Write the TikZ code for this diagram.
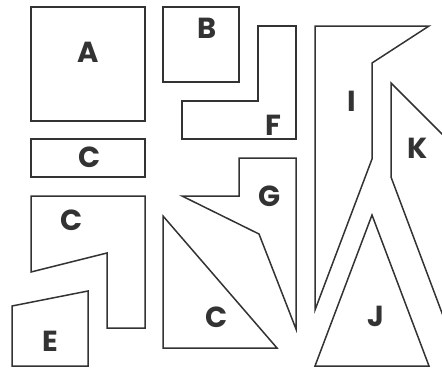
\documentclass[tikz,border=0pt]{standalone}
\usepackage{fontspec}
\newfontfamily\labfont{Poppins}
\definecolor{ink}{RGB}{51,51,51}
\begin{document}
\begin{tikzpicture}[x=1pt,y=-1pt,
  piece/.style={draw=ink,line width=1.5pt,line join=miter},
  lab/.style={text=ink,font=\labfont\bfseries\fontsize{29}{29}\selectfont,inner sep=0pt}]
\useasboundingbox (0,0) rectangle (442,367);
\begin{scope}
\clip (0,0) rectangle (442,367);
% A
\draw[piece] (31,7) rectangle (145,121);
% C rect
\draw[piece] (31,139) rectangle (145,177);
% B
\draw[piece] (163,7) rectangle (239,82);
% F
\draw[piece] (258,26) -- (296,26) -- (296,139) -- (182,139) -- (182,101) -- (258,101) -- cycle;
% G
\draw[piece] (239,158) -- (296,158) -- (296,329) -- (259,234) -- (182,196) -- (239,196) -- cycle;
% C triangle
\draw[piece] (163,216) -- (163,348) -- (277,348) -- cycle;
% C L-shape
\draw[piece] (31,196) -- (145,196) -- (145,328) -- (107,328) -- (107,253) -- (31,272) -- cycle;
% E
\draw[piece] (12,306) -- (88,291) -- (88,366) -- (12,366) -- cycle;
% I
\draw[piece] (315,26) -- (429,26) -- (372,63) -- (372,159) -- (315,310) -- cycle;
% K
\draw[piece] (391,83) -- (391,177) -- (460,361) -- (460,152) -- cycle;
% J
\draw[piece] (372,215) -- (429,366) -- (315,366) -- cycle;
\end{scope}
\node[lab] (lA) at (88,52) {A};
\node[lab] (lC1) at (90,157) {C};
\node[lab] (lB) at (207,28) {B};
\node[lab] (lF) at (273,125) {F};
\node[lab] (lG) at (270,196) {G};
\node[lab] (lC2) at (72,220) {C};
\node[lab] (lC3) at (217,317) {C};
\node[lab] (lE) at (50,341) {E};
\node[lab] (lI) at (352,101) {I};
\node[lab] (lK) at (418,148) {K};
\node[lab] (lJ) at (376,316) {J};
\end{tikzpicture}
\end{document}
